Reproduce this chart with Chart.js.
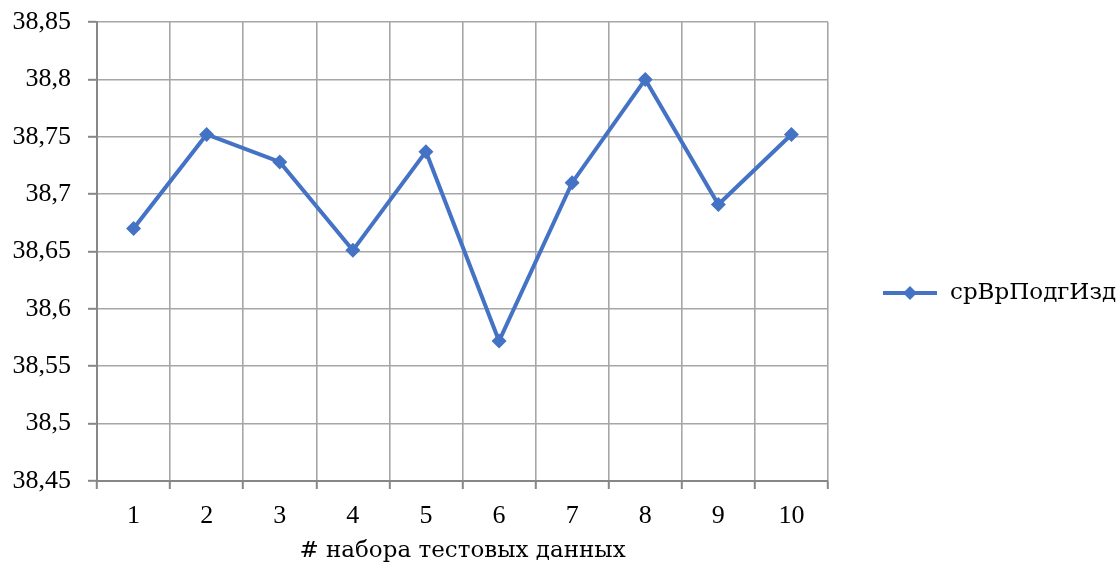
<!DOCTYPE html>
<html>
<head>
<meta charset="utf-8">
<script src="https://cdn.jsdelivr.net/npm/chart.js@4.4.1/dist/chart.umd.min.js"></script>
<style>
  html, body { margin: 0; padding: 0; background: #ffffff; }
  #wrap { width: 1120px; height: 562px; }
</style>
</head>
<body>
<div id="wrap"><canvas id="c" width="1120" height="562"></canvas></div>
<script>
// Categories: test data set number
const categories = ['1', '2', '3', '4', '5', '6', '7', '8', '9', '10'];
// Average preparation time per item
const seriesName = 'срВрПодгИзд';
const seriesValues = [38.670, 38.752, 38.728, 38.651, 38.737, 38.572, 38.710, 38.800, 38.691, 38.752];
// Y axis tick values
const yTicks = [38.45, 38.50, 38.55, 38.60, 38.65, 38.70, 38.75, 38.80, 38.85];
const xTitle = '# набора тестовых данных';

// Digits in a Times-like face, Cyrillic text in a serif face that covers it
const NUM_FONT = '"Liberation Serif", "Times New Roman", serif';
const TEXT_FONT = '"DejaVu Serif", serif';
const LINE_COLOR = '#4472C4';
const GRID_COLOR = '#a6a6a6';
const AXIS_COLOR = '#878787';

const fmt = v => String(Math.round(v * 100) / 100).replace('.', ',');

// Legend to the right of the plot: line sample with diamond and label
const sideLegend = {
  id: 'sideLegend',
  afterDraw(chart) {
    const ctx = chart.ctx;
    const area = chart.chartArea;
    const y = 293;
    const x0 = area.right + 55;
    ctx.save();
    ctx.strokeStyle = LINE_COLOR;
    ctx.lineWidth = 4;
    ctx.beginPath();
    ctx.moveTo(x0, y);
    ctx.lineTo(x0 + 54, y);
    ctx.stroke();
    ctx.fillStyle = LINE_COLOR;
    const r = 7, cx = x0 + 27;
    ctx.beginPath();
    ctx.moveTo(cx, y - r);
    ctx.lineTo(cx + r, y);
    ctx.lineTo(cx, y + r);
    ctx.lineTo(cx - r, y);
    ctx.closePath();
    ctx.fill();
    ctx.fillStyle = '#000000';
    ctx.font = '23px ' + TEXT_FONT;
    ctx.textBaseline = 'middle';
    ctx.textAlign = 'left';
    ctx.fillText(seriesName, x0 + 67, y);
    ctx.restore();
  }
};

function build() {
  new Chart(document.getElementById('c'), {
    type: 'line',
    data: {
      labels: categories,
      datasets: [{
        label: seriesName,
        data: seriesValues,
        borderColor: LINE_COLOR,
        backgroundColor: LINE_COLOR,
        borderWidth: 4,
        pointStyle: 'rectRot',
        pointRadius: 7.5,
        pointHoverRadius: 7.5,
        pointBorderWidth: 0,
        tension: 0,
        fill: false
      }]
    },
    options: {
      responsive: false,
      animation: false,
      devicePixelRatio: 1,
      layout: { padding: { left: 0, right: 292, top: 22, bottom: 0 } },
      plugins: {
        legend: { display: false },
        tooltip: { enabled: false }
      },
      scales: {
        x: {
          type: 'category',
          offset: true,
          grid: {
            offset: true,
            color: GRID_COLOR,
            lineWidth: 1.6,
            tickLength: 8,
            tickColor: AXIS_COLOR,
            tickWidth: 2
          },
          border: { color: AXIS_COLOR, width: 2 },
          ticks: {
            color: '#000000',
            font: { family: NUM_FONT, size: 26 },
            padding: 12,
            maxRotation: 0
          },
          title: {
            display: true,
            text: xTitle,
            color: '#000000',
            font: { family: TEXT_FONT, size: 23 },
            padding: { top: 0, bottom: -3 }
          },
          afterFit(scale) { scale.height = 81; }
        },
        y: {
          min: 38.45,
          max: 38.85,
          afterBuildTicks(scale) { scale.ticks = yTicks.map(v => ({ value: v })); },
          grid: {
            color: GRID_COLOR,
            lineWidth: 1.6,
            tickLength: 9,
            tickColor: AXIS_COLOR,
            tickWidth: 2
          },
          border: { color: AXIS_COLOR, width: 2 },
          ticks: {
            color: '#000000',
            font: { family: NUM_FONT, size: 26 },
            padding: 17,
            callback: v => fmt(v)
          },
          afterFit(scale) {
            scale.width = 97;
            scale.paddingTop = 0;
            scale.paddingBottom = 0;
          }
        }
      }
    },
    plugins: [sideLegend]
  });
}

Promise.all([
  document.fonts.load('24px "DejaVu Serif"', 'срВр#1'),
  document.fonts.load('24px "Liberation Serif"', '0123456789,')
]).then(build, build);
</script>
</body>
</html>
